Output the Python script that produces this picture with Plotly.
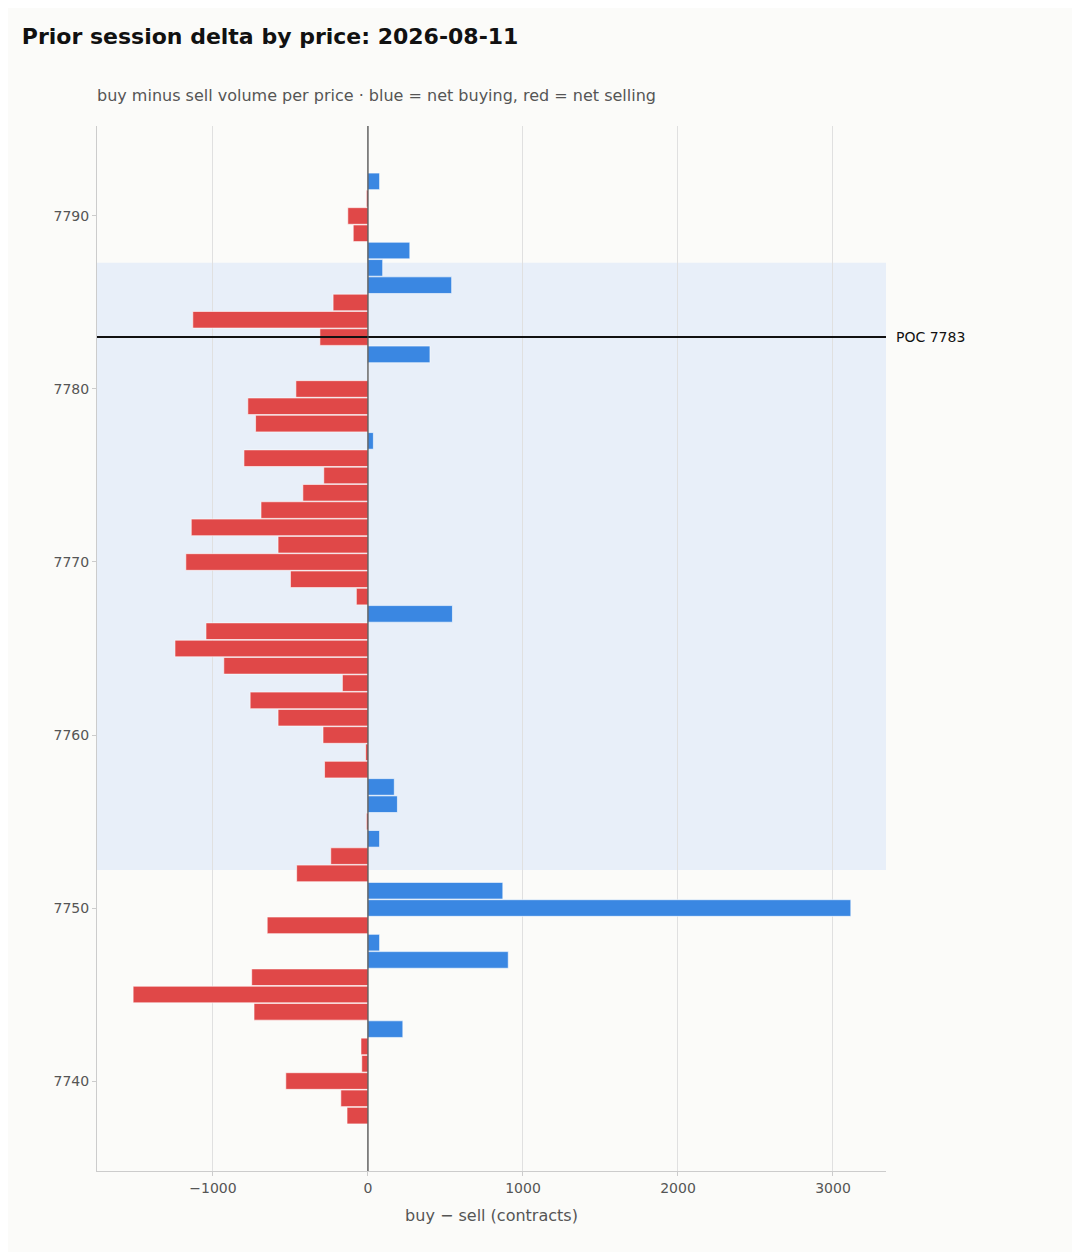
import plotly.graph_objects as go

prices = list(range(7792, 7737, -1))
delta = [75, -10, -130, -95, 270, 95, 540, -225, -1130, -310, 400, 0, -465,
         -775, -725, 35, -800, -285, -420, -690, -1140, -580, -1175, -500, -75,
         545, -1045, -1245, -930, -165, -760, -580, -290, -15, -280, 170, 190,
         -10, 75, -240, -460, 870, 3115, -650, 75, 905, -750, -1515, -735, 225,
         -45, -40, -530, -175, -135]
poc = 7783
va_low, va_high = 7752.2, 7787.3

colors = ["#3a87e2" if d > 0 else "#e04848" for d in delta]

fig = go.Figure()
fig.add_shape(type="rect", xref="paper", yref="y", x0=0, x1=1, y0=va_low, y1=va_high,
              fillcolor="rgba(70,140,255,0.10)", line_width=0, layer="below")
fig.add_trace(go.Bar(x=delta, y=prices, orientation="h", marker_color=colors,
                     marker_line=dict(color="white", width=0.6), showlegend=False))
fig.add_shape(type="line", xref="paper", yref="y", x0=0, x1=1, y0=poc, y1=poc,
              line=dict(color="#111", width=2))
fig.add_shape(type="line", xref="x", yref="paper", x0=0, x1=0, y0=0, y1=1,
              line=dict(color="#444", width=1.2))
fig.add_annotation(xref="paper", yref="y", x=1.01, y=poc, text="POC 7783", showarrow=False,
                   xanchor="left", font=dict(size=14, color="#111"))
fig.add_annotation(xref="paper", yref="paper", x=-0.002, y=1.018, yanchor="bottom", xanchor="left",
                   text="buy minus sell volume per price · blue = net buying, red = net selling",
                   showarrow=False, font=dict(size=16, color="#555"))

fig.update_layout(
    width=1064, height=1244,
    title=dict(text="<b>Prior session delta by price: 2026-08-11</b>", x=0.013, xanchor="left",
               y=0.977, yanchor="middle", font=dict(size=22, color="#111")),
    font=dict(family="DejaVu Sans", color="#555"),
    paper_bgcolor="#fbfbf9", plot_bgcolor="#fbfbf9",
    margin=dict(l=89, r=186, t=118, b=81),
    bargap=0.04,
)
fig.update_xaxes(range=[-1748, 3342], tickvals=[-1000, 0, 1000, 2000, 3000],
                 ticktext=["−1000", "0", "1000", "2000", "3000"],
                 showgrid=True, gridcolor="#e0e0e0", zeroline=False,
                 showline=True, linecolor="#ccc", ticks="outside", ticklen=4, tickcolor="#ccc",
                 tickfont=dict(size=14), title=dict(text="buy − sell (contracts)", font=dict(size=16)))
fig.update_yaxes(range=[7734.8, 7795.2], tickvals=[7740, 7750, 7760, 7770, 7780, 7790],
                 showgrid=False, zeroline=False, showline=True, linecolor="#ccc",
                 ticks="outside", ticklen=4, tickcolor="#ccc", tickfont=dict(size=14))

fig.write_html("out.html")
